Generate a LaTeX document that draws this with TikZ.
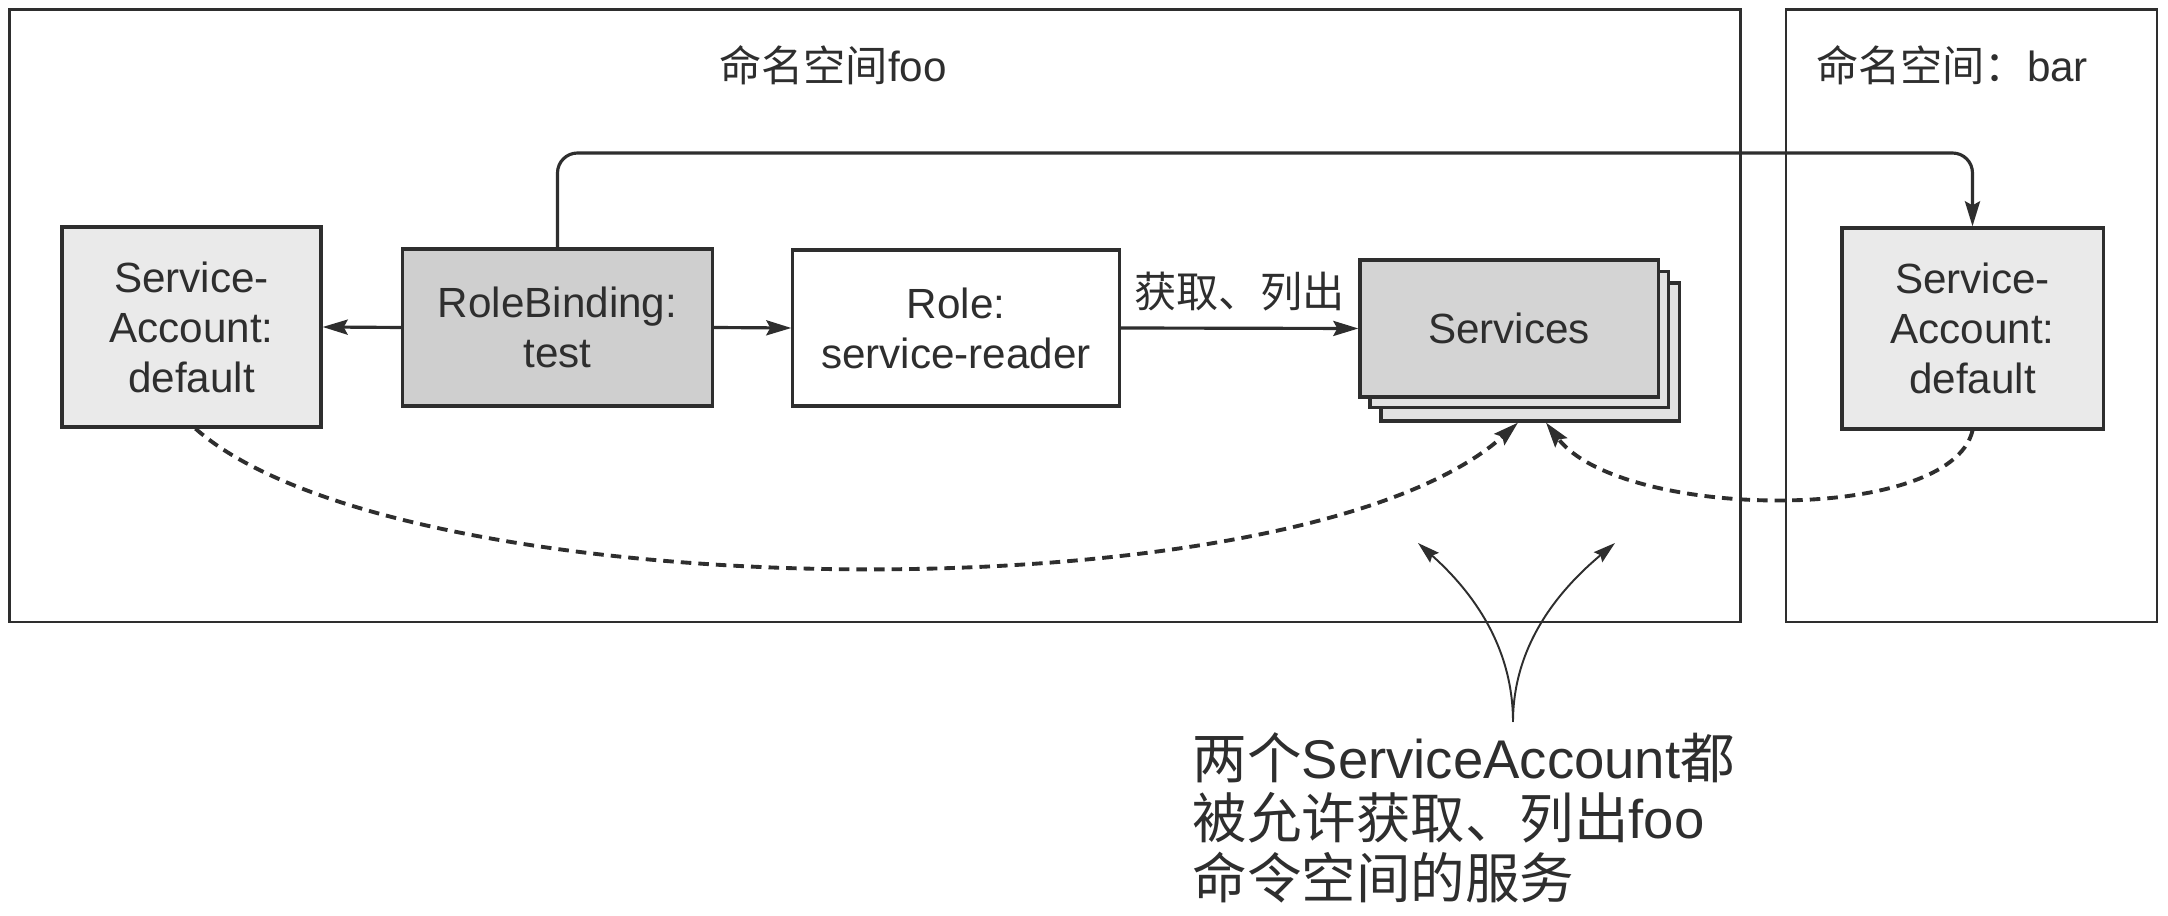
\documentclass[tikz,border=0pt]{standalone}
\usepackage{fontspec}
\setmainfont{Liberation Sans}
\newfontfamily\cjk{Noto Sans CJK SC}
\usetikzlibrary{arrows.meta,calc}
\definecolor{ink}{HTML}{2E2E2E}
\definecolor{saFill}{HTML}{EAEAEA}
\definecolor{rbFill}{HTML}{CFCFCF}
\definecolor{svcFill}{HTML}{D4D4D4}
\definecolor{svcBack}{HTML}{E2E2E2}
\begin{document}
\begin{tikzpicture}[x=0.01cm,y=-0.01cm,
  every node/.style={text=ink},
  txt/.style={font=\fontsize{12}{14.2}\selectfont},
  box/.style={draw=ink, line width=0.9pt, inner sep=0pt, align=center, font=\fontsize{12}{14.2}\selectfont},
  frame/.style={draw=ink, line width=0.75pt, inner sep=0pt},
  tip/.style={-{Stealth[length=0.25cm,width=0.15cm,inset=0.04cm]}},
  conn/.style={draw=ink, line width=0.9pt},
  dashconn/.style={draw=ink, line width=1.1pt, dash pattern=on 3pt off 2pt},
  thinarrow/.style={draw=ink, line width=0.55pt, -{Stealth[length=0.22cm,width=0.13cm,inset=0.03cm]}},
]
\useasboundingbox (0,0) rectangle (2168,916);
\fill[white] (0,0) rectangle (2168,916);

% namespace frames
\node[frame, minimum width=17.30cm, minimum height=6.12cm] (foo) at (875,316) {};
\node[frame, minimum width=3.71cm, minimum height=6.12cm] (bar) at (1971.5,316) {};
\node[txt] (tfoo) at (833,65) {{\cjk 命名空间}foo};
\node[txt] (tbar) at (1952,65) {{\cjk 命名空间：}bar};

% boxes
\node[box, fill=saFill, minimum width=2.59cm, minimum height=2.00cm] (saL) at (191.5,327) {Service-\\Account:\\default};
\node[box, fill=rbFill, minimum width=3.09cm, minimum height=1.57cm] (rb) at (557.5,327.5) {RoleBinding:\\test};
\node[box, fill=white, minimum width=3.26cm, minimum height=1.56cm] (role) at (956,328) {Role:\\service-reader};
\node[box, fill=svcBack, minimum width=2.98cm, minimum height=1.38cm] (svc3) at (1530,352) {};
\node[box, fill=svcBack, minimum width=2.98cm, minimum height=1.36cm] (svc2) at (1519,339.5) {};
\node[box, fill=svcFill, minimum width=2.98cm, minimum height=1.37cm] (svc) at (1509,328.5) {Services};
\node[box, fill=saFill, minimum width=2.61cm, minimum height=2.01cm] (saR) at (1972.5,328.5) {Service-\\Account:\\default};

% connectors
\draw[conn,tip] (rb.west) -- (saL.east);
\draw[conn,tip] (rb.east) -- (role.west);
\draw[conn,tip] (role.east) -- node[txt, midway, yshift=0.37cm] (lbl) {{\cjk 获取、列出}} (svc.west);
\coordinate (topy) at (0,153);
\draw[conn,tip,rounded corners=0.2cm] (rb.north) -- (rb.north |- topy) -| (saR.north);

% dashed access curves
\draw[dashconn,tip] ([xshift=0.04cm]saL.south) .. controls (400,610) and (1300,620) .. ([xshift=-0.12cm]svc3.south);
\draw[dashconn,tip] (saR.south) .. controls (1950,525) and (1620,520) .. ([xshift=0.16cm]svc3.south);

% annotation
\node[font=\fontsize{15.5}{17}\selectfont, align=left, anchor=north west, inner sep=0pt] (note) at (1192,732)
  {{\cjk 两个}ServiceAccount{\cjk 都}\\{\cjk 被允许获取、列出}foo\\{\cjk 命令空间的服务}};
\coordinate (src) at (1513,722);
\coordinate (tipL) at (1418,543);
\coordinate (tipR) at (1615,543);
\draw[thinarrow] (src) .. controls (1513,640) and (1465,585) .. (tipL);
\draw[thinarrow] (src) .. controls (1513,640) and (1565,585) .. (tipR);
\end{tikzpicture}
\end{document}
